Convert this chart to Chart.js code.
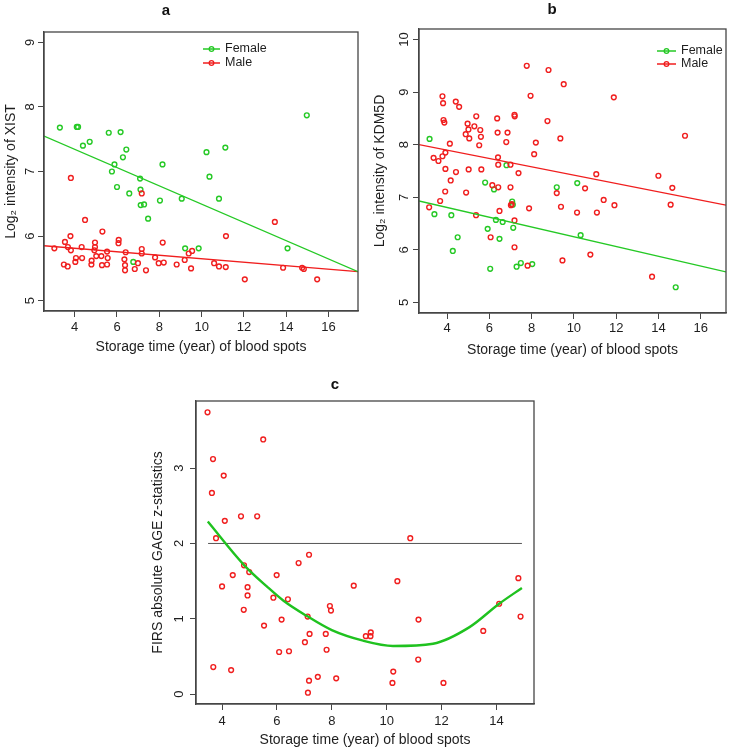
<!DOCTYPE html>
<html>
<head>
<meta charset="utf-8">
<script src="https://cdn.jsdelivr.net/npm/chart.js@4.4.1/dist/chart.umd.min.js"></script>
<style>
  body { margin: 0; background: #fff; }
  .panel { position: absolute; }
</style>
</head>
<body>
<div class="panel" style="left:0;top:0;width:365px;height:370px"><canvas id="chart-a"></canvas></div>
<div class="panel" style="left:365px;top:0;width:365px;height:370px"><canvas id="chart-b"></canvas></div>
<div class="panel" style="left:150px;top:370px;width:430px;height:380px"><canvas id="chart-c"></canvas></div>
<script>
// ---- data ----
const seriesNames = ["Female", "Male"];
const xTitle = "Storage time (year) of blood spots";

// panel a: XIST
const aFemale = [[3.30,7.68],[4.10,7.69],[4.16,7.69],[4.39,7.40],[4.71,7.46],[5.61,7.60],[6.17,7.61],[6.44,7.34],
  [6.28,7.22],[5.88,7.11],[5.76,7.00],[6.00,6.76],[6.58,6.66],[7.09,6.89],[7.11,6.72],[7.12,6.48],[7.28,6.49],
  [7.47,6.27],[8.03,6.55],[8.15,7.11],[9.06,6.58],[10.23,7.30],[10.37,6.92],[10.82,6.58],[11.12,7.37],[9.22,5.81],
  [9.86,5.81],[14.06,5.81],[14.97,7.87],[6.77,5.60]];
const aMale = [[3.04,5.81],[3.49,5.56],[3.67,5.53],[3.54,5.91],[3.68,5.83],[3.82,5.78],[3.80,6.00],[3.82,6.90],
  [4.06,5.66],[4.03,5.60],[4.35,5.66],[4.33,5.83],[4.49,6.25],[4.80,5.62],[4.79,5.56],[4.96,5.90],[4.96,5.83],
  [4.93,5.78],[5.02,5.69],[5.26,5.69],[5.31,6.07],[5.29,5.55],[5.53,5.76],[5.56,5.66],[5.53,5.56],[6.07,5.89],
  [6.08,5.94],[6.35,5.64],[6.38,5.55],[6.38,5.47],[6.41,5.75],[6.84,5.49],[6.99,5.58],[7.17,5.80],[7.17,5.73],
  [7.17,6.66],[7.37,5.47],[7.80,5.67],[7.97,5.58],[8.21,5.59],[8.16,5.90],[8.82,5.56],[9.20,5.63],[9.39,5.73],
  [9.55,5.77],[9.50,5.50],[10.59,5.58],[10.82,5.53],[11.14,5.52],[11.15,6.00],[12.04,5.33],[13.46,6.22],
  [13.85,5.51],[14.75,5.51],[14.83,5.49],[15.46,5.33]];
const aFemaleFit = [[2.55,7.55],[17.39,5.45]];
const aMaleFit = [[2.55,5.85],[17.39,5.45]];
const aXTicks = [4, 6, 8, 10, 12, 14, 16];
const aYTicks = [5, 6, 7, 8, 9];

// panel b: KDM5D
const bFemale = [[3.17,8.11],[3.40,6.68],[4.20,6.66],[4.27,5.98],[4.50,6.24],[5.80,7.28],[6.22,7.15],[5.92,6.40],
  [6.04,5.64],[6.31,6.57],[6.48,6.21],[6.63,6.53],[6.81,7.61],[7.08,6.92],[7.11,6.86],[7.13,6.42],[7.29,5.68],
  [7.49,5.75],[8.03,5.73],[9.19,7.19],[10.16,7.27],[10.32,6.28],[14.82,5.29]];
const bMale = [[3.36,7.75],[3.15,6.81],[3.59,7.69],[3.67,6.93],[3.78,7.78],[3.78,8.92],[3.81,8.79],[3.83,8.47],
  [3.87,8.42],[3.92,7.85],[3.92,7.54],[3.91,7.11],[4.13,8.02],[4.17,7.32],[4.41,8.82],[4.57,8.72],[4.42,7.48],
  [4.90,7.09],[4.97,8.40],[5.01,8.29],[5.05,8.12],[4.88,8.20],[5.02,7.53],[5.29,8.35],[5.38,8.54],[5.57,8.28],
  [5.60,8.15],[5.52,7.99],[5.62,7.53],[5.37,6.66],[6.14,7.23],[6.06,6.24],[6.37,8.50],[6.39,8.23],[6.41,7.76],
  [6.42,7.62],[6.42,7.19],[6.48,6.74],[6.80,8.05],[6.86,8.23],[7.00,7.62],[7.00,7.19],[7.02,6.85],[7.06,6.87],
  [7.19,8.57],[7.20,8.54],[7.19,6.56],[7.19,6.05],[7.38,7.46],[7.77,9.50],[7.95,8.93],[7.88,6.79],[7.81,5.70],
  [8.12,7.82],[8.20,8.04],[8.75,8.45],[8.80,9.42],[9.19,7.08],[9.36,8.12],[9.39,6.82],[9.52,9.15],[9.46,5.80],
  [10.15,6.71],[10.53,7.17],[10.78,5.91],[11.06,7.44],[11.09,6.71],[11.41,6.95],[11.89,8.90],[11.92,6.85],
  [13.70,5.49],[14.00,7.41],[14.58,6.86],[14.66,7.18],[15.26,8.17]];
const bFemaleFit = [[2.67,6.93],[17.2,5.58]];
const bMaleFit = [[2.67,8.00],[17.2,6.85]];
const bXTicks = [4, 6, 8, 10, 12, 14, 16];
const bYTicks = [5, 6, 7, 8, 9, 10];

// panel c: FIRS absolute GAGE z-statistics
const cPoints = [[3.47,3.74],[5.50,3.38],[3.67,3.12],[4.06,2.90],[3.63,2.67],[4.10,2.30],[4.69,2.36],[5.28,2.36],
  [3.78,2.07],[10.86,2.07],[7.17,1.85],[6.79,1.74],[4.80,1.71],[4.99,1.62],[4.39,1.58],[5.99,1.58],[4.00,1.43],
  [4.93,1.42],[8.80,1.44],[10.39,1.50],[14.80,1.54],[4.93,1.31],[5.87,1.28],[6.40,1.26],[3.68,0.36],[4.33,0.32],
  [4.79,1.12],[5.53,0.91],[6.17,0.99],[6.08,0.56],[6.44,0.57],[7.12,1.03],[7.19,0.80],[7.02,0.69],[7.13,0.02],
  [7.17,0.18],[7.49,0.23],[7.78,0.80],[7.81,0.59],[7.93,1.17],[7.97,1.11],[8.16,0.21],[9.24,0.77],[9.41,0.77],
  [9.42,0.82],[10.24,0.30],[10.21,0.15],[11.16,0.99],[11.15,0.46],[12.07,0.15],[13.52,0.84],[14.10,1.20],
  [14.88,1.03]];
const cFit = [[3.48,2.29],[4.81,1.71],[5.63,1.43],[6.24,1.24],[7.08,1.04],[8.00,0.85],[9.14,0.71],[10.23,0.64],
  [11.69,0.67],[13.02,0.89],[14.10,1.20],[14.93,1.41]];
const cThreshold = [[3.49,2],[14.93,2]];
const cXTicks = [4, 6, 8, 10, 12, 14];
const cYTicks = [0, 1, 2, 3];

// ---- styling ----
const FONT = "'Liberation Sans', Arial, sans-serif";
const GREEN = "#25c925";
const RED = "#f01e1e";
const AXIS = "#454545";
const TEXT = "#1e1e1e";
Chart.defaults.font.family = FONT;

function pts(arr) {
  return arr.map(p => ({ x: p[0], y: p[1] }));
}

function pointSet(data, color, order) {
  return {
    data: pts(data), order: order, showLine: false,
    pointRadius: 2.4, pointBorderWidth: 1.4, pointHoverRadius: 2.4,
    pointBorderColor: color, pointBackgroundColor: "rgba(0,0,0,0)", borderColor: color
  };
}

function lineSet(data, color, width) {
  return {
    data: pts(data), order: 0, showLine: true, pointRadius: 0, pointHoverRadius: 0,
    borderColor: color, borderWidth: width, fill: false
  };
}

function xScale(min, max, ticks, height, tickPad, titlePad) {
  return {
    type: "linear", min: min, max: max,
    afterBuildTicks: s => { s.ticks = ticks.map(v => ({ value: v })); },
    afterFit: s => { s.height = height; },
    grid: { drawOnChartArea: false, drawTicks: true, tickLength: 6, color: AXIS, lineWidth: 1 },
    border: { display: true, color: AXIS, width: 1.3 },
    ticks: { font: { size: 13 }, color: TEXT, padding: tickPad, maxRotation: 0, autoSkip: false },
    title: { display: true, text: xTitle, font: { size: 14 }, color: TEXT, padding: { top: 0, bottom: titlePad } }
  };
}

function yScale(min, max, ticks, width, tickPad, title, titlePad) {
  return {
    type: "linear", min: min, max: max,
    afterBuildTicks: s => { s.ticks = ticks.map(v => ({ value: v })); },
    afterFit: s => { s.width = width; },
    grid: { drawOnChartArea: false, drawTicks: true, tickLength: 6, color: AXIS, lineWidth: 1 },
    border: { display: true, color: AXIS, width: 1.3 },
    ticks: { font: { size: 13 }, color: TEXT, padding: tickPad, minRotation: 90, maxRotation: 90,
             crossAlign: "center", autoSkip: false },
    title: { display: true, text: title, font: { size: 14 }, color: TEXT, padding: { top: titlePad, bottom: 0 } }
  };
}

// box round the plot region, as R's box()
const boxPlugin = {
  id: "box",
  afterDatasetsDraw(chart) {
    const a = chart.chartArea, ctx = chart.ctx;
    ctx.save();
    ctx.strokeStyle = AXIS;
    ctx.lineWidth = 1.3;
    ctx.strokeRect(a.left, a.top, a.right - a.left, a.bottom - a.top);
    ctx.restore();
  }
};

// R style legend (line with a circle) drawn inside the plot
const rLegend = {
  id: "rLegend",
  afterDraw(chart, args, o) {
    if (!o.colors) return;
    const ctx = chart.ctx, a = chart.chartArea;
    ctx.save();
    ctx.font = "12.5px " + FONT;
    ctx.textBaseline = "middle";
    o.colors.forEach((color, i) => {
      const x = a.left + o.x, y = a.top + o.y + i * o.gap;
      ctx.strokeStyle = color;
      ctx.lineWidth = 1.5;
      ctx.beginPath(); ctx.moveTo(x, y); ctx.lineTo(x + o.len, y); ctx.stroke();
      ctx.lineWidth = 1.3;
      ctx.beginPath(); ctx.arc(x + o.len / 2, y, 2.3, 0, Math.PI * 2); ctx.stroke();
      ctx.fillStyle = TEXT;
      ctx.fillText(seriesNames[i], x + o.len + 5, y);
    });
    ctx.restore();
  }
};

// panel letter
const panelTag = {
  id: "panelTag",
  afterDraw(chart, args, o) {
    const ctx = chart.ctx;
    ctx.save();
    ctx.font = "bold 15px " + FONT;
    ctx.fillStyle = "#111";
    ctx.textAlign = "center";
    ctx.textBaseline = "middle";
    ctx.fillText(o.text, o.x, o.y);
    ctx.restore();
  }
};

function makeChart(id, datasets, scales, padding, tag, legend) {
  return new Chart(document.getElementById(id), {
    type: "scatter",
    data: { datasets: datasets },
    options: {
      responsive: true, maintainAspectRatio: false, animation: false, events: [],
      layout: { padding: padding },
      scales: scales,
      plugins: { legend: { display: false }, tooltip: { enabled: false }, panelTag: tag, rLegend: legend || {} }
    },
    plugins: [boxPlugin, rLegend, panelTag]
  });
}

makeChart("chart-a",
  [lineSet(aFemaleFit, GREEN, 1.3), lineSet(aMaleFit, RED, 1.3), pointSet(aMale, RED, 1), pointSet(aFemale, GREEN, 2)],
  { x: xScale(2.55, 17.39, aXTicks, 59, 3, 14), y: yScale(4.84, 9.16, aYTicks, 44, 4.4, "Log\u2082 intensity of XIST", 2.6) },
  { left: 0, top: 32, right: 7, bottom: 0 },
  { text: "a", x: 166, y: 11 },
  { colors: [GREEN, RED], x: 159, y: 17, gap: 14, len: 17 });

makeChart("chart-b",
  [lineSet(bFemaleFit, GREEN, 1.3), lineSet(bMaleFit, RED, 1.3), pointSet(bMale, RED, 1), pointSet(bFemale, GREEN, 2)],
  { x: xScale(2.67, 17.2, bXTicks, 57, 2, 11), y: yScale(4.8, 10.2, bYTicks, 54, 1, "Log\u2082 intensity of KDM5D", 6.6) },
  { left: 0, top: 29, right: 4, bottom: 0 },
  { text: "b", x: 187, y: 10 },
  { colors: [GREEN, RED], x: 238, y: 22, gap: 13, len: 19 });

makeChart("chart-c",
  [lineSet(cFit, "#1fc21f", 2.4), lineSet(cThreshold, "#555", 1), pointSet(cPoints, RED, 1)].map((d, i) => {
    if (i === 0) { d.tension = 0.4; d.cubicInterpolationMode = "monotone"; }
    return d;
  }),
  { x: xScale(3.05, 15.37, cXTicks, 46, 3.6, 1.6), y: yScale(-0.13, 3.89, cYTicks, 46, 7, "FIRS absolute GAGE z-statistics", 0) },
  { left: 0, top: 31, right: 46, bottom: 0 },
  { text: "c", x: 185, y: 15 },
  null);
</script>
</body>
</html>
